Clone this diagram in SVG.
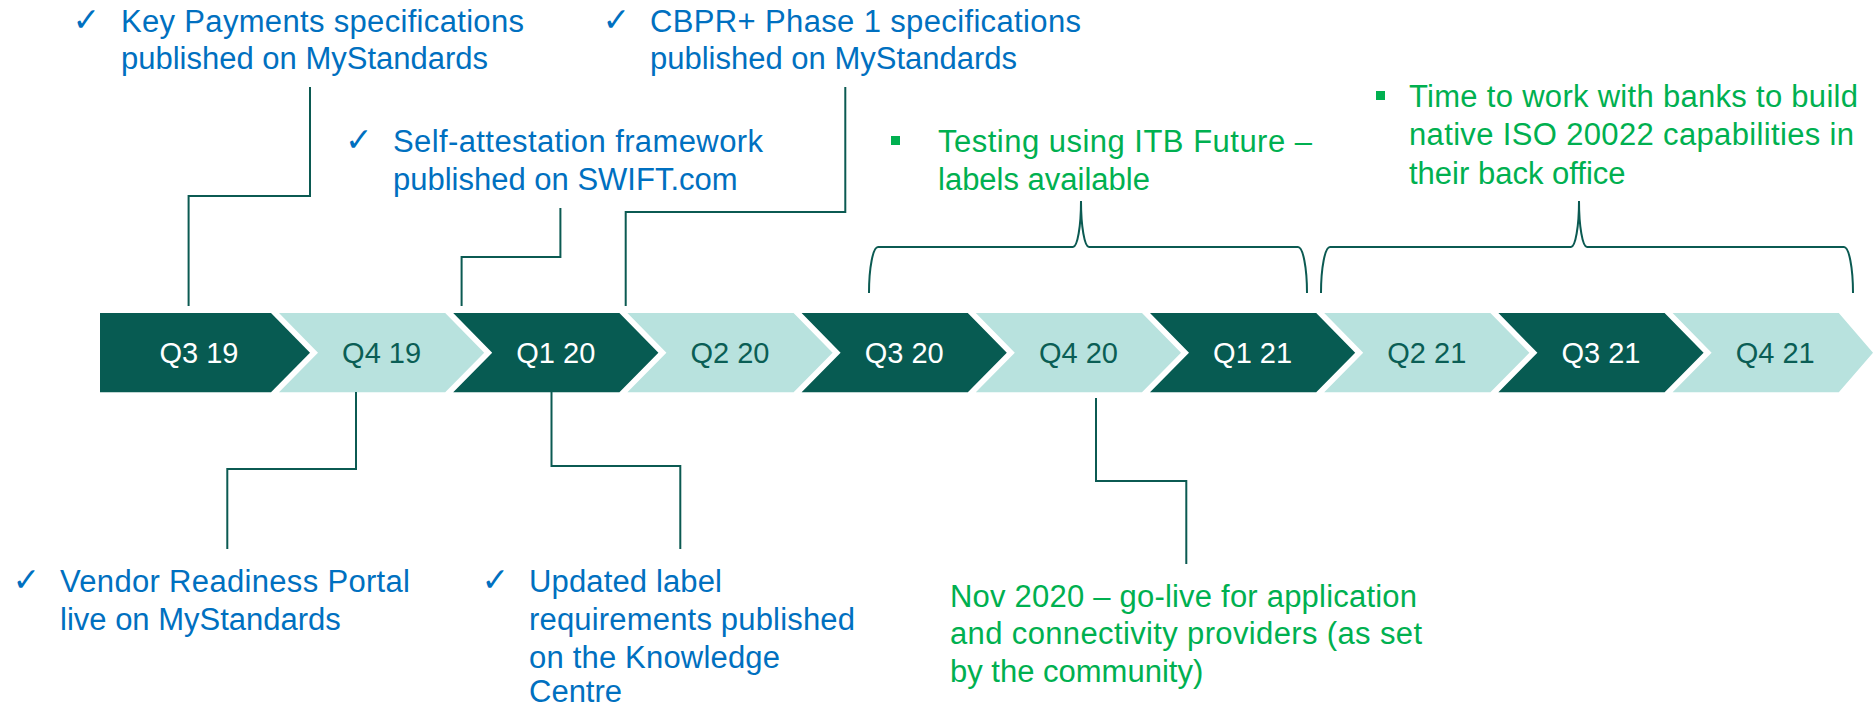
<svg xmlns="http://www.w3.org/2000/svg" width="1873" height="709" viewBox="0 0 1873 709">
<style>
.dk{fill:#075B52}
.lt{fill:#B8E2DE}
.ql{font-family:"Liberation Sans",Arial,sans-serif;font-size:29px;text-anchor:middle}
.qw{fill:#FFFFFF}
.qd{fill:#0A5E55}
.bl{font-family:"Liberation Sans",Arial,sans-serif;font-size:31px;fill:#0070C0}
.gr{font-family:"Liberation Sans",Arial,sans-serif;font-size:31px;fill:#00B050}
.ck{font-family:"DejaVu Sans",sans-serif;font-size:33px;fill:#0070C0}
.sq{fill:#00B050}
.cn{fill:none;stroke:#0B5A52;stroke-width:2}
</style>
<rect width="1873" height="709" fill="#FFFFFF"/>

<g id="timeline">
<g id="q3-19"><polygon class="dk" points="100,313 271,313 310,352.8 271,392.3 100,392.3"/><text class="ql qw" x="199" y="362.5">Q3 19</text></g>
<g id="q4-19"><polygon class="lt" points="279,313 445.2,313 484.2,352.8 445.2,392.3 279,392.3 318,352.8"/><text class="ql qd" x="381.6" y="362.5">Q4 19</text></g>
<g id="q1-20"><polygon class="dk" points="453.2,313 619.4,313 658.4,352.8 619.4,392.3 453.2,392.3 492.2,352.8"/><text class="ql qw" x="555.8" y="362.5">Q1 20</text></g>
<g id="q2-20"><polygon class="lt" points="627.4,313 793.6,313 832.6,352.8 793.6,392.3 627.4,392.3 666.4,352.8"/><text class="ql qd" x="730" y="362.5">Q2 20</text></g>
<g id="q3-20"><polygon class="dk" points="801.6,313 967.8,313 1006.8,352.8 967.8,392.3 801.6,392.3 840.6,352.8"/><text class="ql qw" x="904.2" y="362.5">Q3 20</text></g>
<g id="q4-20"><polygon class="lt" points="975.8,313 1142,313 1181,352.8 1142,392.3 975.8,392.3 1014.8,352.8"/><text class="ql qd" x="1078.4" y="362.5">Q4 20</text></g>
<g id="q1-21"><polygon class="dk" points="1150,313 1316.2,313 1355.2,352.8 1316.2,392.3 1150,392.3 1189,352.8"/><text class="ql qw" x="1252.6" y="362.5">Q1 21</text></g>
<g id="q2-21"><polygon class="lt" points="1324.2,313 1490.4,313 1529.4,352.8 1490.4,392.3 1324.2,392.3 1363.2,352.8"/><text class="ql qd" x="1426.8" y="362.5">Q2 21</text></g>
<g id="q3-21"><polygon class="dk" points="1498.4,313 1664.6,313 1703.6,352.8 1664.6,392.3 1498.4,392.3 1537.4,352.8"/><text class="ql qw" x="1601" y="362.5">Q3 21</text></g>
<g id="q4-21"><polygon class="lt" points="1672.6,313 1838.8,313 1873,352.8 1838.8,392.3 1672.6,392.3 1711.6,352.8"/><text class="ql qd" x="1775.2" y="362.5">Q4 21</text></g>
</g>

<g id="connectors">
<path class="cn" d="M310,87 V196 H188.6 V306"/>
<path class="cn" d="M560.4,208 V257 H461.6 V306"/>
<path class="cn" d="M845.3,87 V212 H625.7 V306"/>
<path class="cn" d="M356,392 V469 H227.3 V549"/>
<path class="cn" d="M551.5,392 V466 H680.3 V549"/>
<path class="cn" d="M1096,398 V481 H1186.3 V564"/>
<path class="cn" d="M869,293 A9,46 0 0 1 878,247 H1073 A8,46 0 0 0 1081,201 A8,46 0 0 0 1089,247 H1298 A9,46 0 0 1 1307,293"/>
<path class="cn" d="M1321,293 A9,46 0 0 1 1330,247 H1571 A8,46 0 0 0 1579,201 A8,46 0 0 0 1587,247 H1844 A9,46 0 0 1 1853,293"/>
</g>

<g id="key-payments">
<text class="ck" x="72.5" y="31">✓</text>
<text class="bl" x="121" y="31.5" textLength="403" lengthAdjust="spacing">Key Payments specifications</text>
<text class="bl" x="121" y="68.5">published on MyStandards</text>
</g>

<g id="cbpr">
<text class="ck" x="602.5" y="31">✓</text>
<text class="bl" x="650" y="31.5" textLength="431" lengthAdjust="spacing">CBPR+ Phase 1 specifications</text>
<text class="bl" x="650" y="68.5">published on MyStandards</text>
</g>

<g id="self-attestation">
<text class="ck" x="345" y="150.5">✓</text>
<text class="bl" x="393" y="151.5" textLength="370" lengthAdjust="spacing">Self-attestation framework</text>
<text class="bl" x="393" y="190">published on SWIFT.com</text>
</g>

<g id="testing">
<rect class="sq" x="891" y="136" width="9" height="9"/>
<text class="gr" x="938" y="151.5" textLength="374" lengthAdjust="spacing">Testing using ITB Future –</text>
<text class="gr" x="938" y="190">labels available</text>
</g>

<g id="time-to-work">
<rect class="sq" x="1376" y="91" width="9" height="9"/>
<text class="gr" x="1409" y="106.5" textLength="449" lengthAdjust="spacing">Time to work with banks to build</text>
<text class="gr" x="1409" y="145" textLength="445" lengthAdjust="spacing">native ISO 20022 capabilities in</text>
<text class="gr" x="1409" y="183.5">their back office</text>
</g>

<g id="vendor-readiness">
<text class="ck" x="12.5" y="590.5">✓</text>
<text class="bl" x="60" y="591.5" textLength="350" lengthAdjust="spacing">Vendor Readiness Portal</text>
<text class="bl" x="60" y="629.5">live on MyStandards</text>
</g>

<g id="updated-label">
<text class="ck" x="481.5" y="590.5">✓</text>
<text class="bl" x="529" y="591.5" textLength="193" lengthAdjust="spacing">Updated label</text>
<text class="bl" x="529" y="629.5" textLength="326" lengthAdjust="spacing">requirements published</text>
<text class="bl" x="529" y="668" textLength="251" lengthAdjust="spacing">on the Knowledge</text>
<text class="bl" x="529" y="702">Centre</text>
</g>

<g id="go-live">
<text class="gr" x="950" y="606.5" textLength="467" lengthAdjust="spacing">Nov 2020 – go-live for application</text>
<text class="gr" x="950" y="644" textLength="472" lengthAdjust="spacing">and connectivity providers (as set</text>
<text class="gr" x="950" y="681.5">by the community)</text>
</g>
</svg>
